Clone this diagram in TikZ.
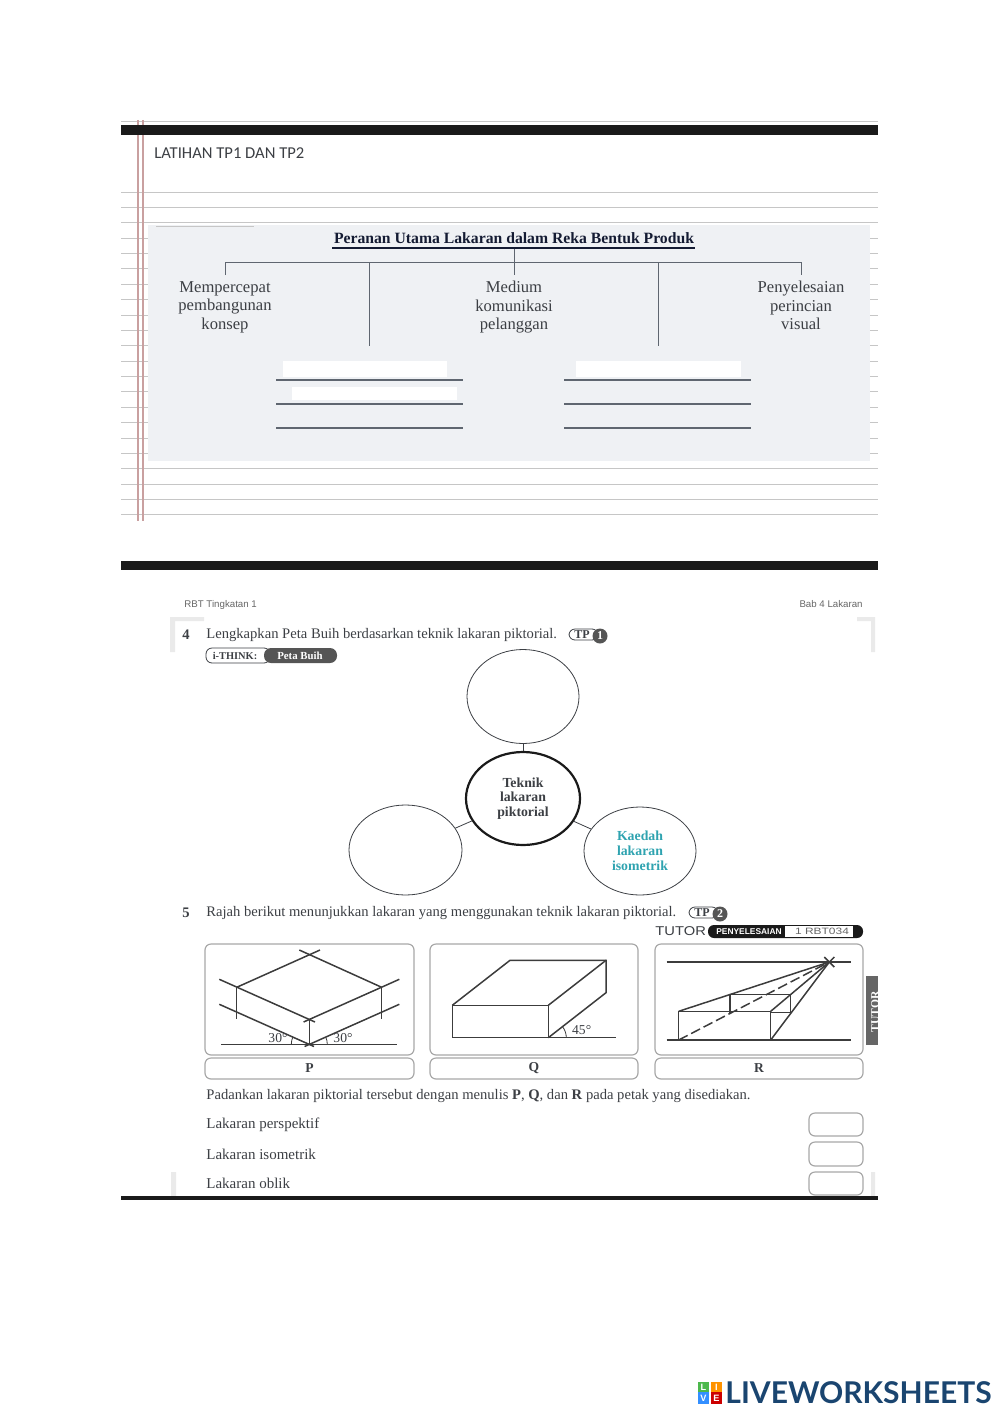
\documentclass[tikz,border=0pt]{standalone}
\usepackage{fontspec}
\usepackage{xcolor}
\usetikzlibrary{shapes.geometric}
\setmainfont{Liberation Serif}
\newfontfamily\headfont{Carlito}
\newfontfamily\pagefont{Liberation Sans}
\newfontfamily\logofont{Lato}
\definecolor{barblack}{HTML}{1A1A1A}
\definecolor{ruleline}{HTML}{C6C6C6}
\definecolor{marginred}{HTML}{C9A0A0}
\definecolor{panelgrey}{HTML}{EFF1F4}
\definecolor{inkgrey}{HTML}{3C3F44}
\definecolor{slateline}{HTML}{5F6670}
\definecolor{titlenavy}{HTML}{141B33}
\definecolor{bubbleteal}{HTML}{2FA3B0}
\definecolor{boxgrey}{HTML}{A8A8A8}
\definecolor{cornergrey}{HTML}{EAEAEA}
\definecolor{pillgrey}{HTML}{555555}
\definecolor{logonavy}{HTML}{1A4570}
\tikzset{
  every node/.append style={font=\rmfamily},
  ruled/.style={color=ruleline, line width=0.5pt},
  treeline/.style={color=slateline, line width=0.5pt},
  blankline/.style={color=slateline, line width=0.8pt},
  leaflabel/.style={font=\fontsize{8.3}{9.25}\selectfont, align=center, text=inkgrey, inner sep=0pt, anchor=north},
  qtext/.style={font=\fontsize{7.3}{8}\selectfont, anchor=west, text=inkgrey, inner sep=0pt},
  rowtext/.style={font=\fontsize{7.5}{8}\selectfont, anchor=west, text=inkgrey, inner sep=0pt},
  bubble/.style={draw=inkgrey, ellipse, line width=0.4pt, inner sep=0pt},
  hubtext/.style={font=\fontsize{6.9}{7.2}\selectfont\bfseries, align=center, text=inkgrey},
  figbox/.style={draw=boxgrey, line width=0.6pt, rounded corners=3pt},
  figline/.style={color=barblack!85, line width=0.75pt},
  boxlabel/.style={font=\fontsize{6.8}{8}\selectfont\bfseries, text=inkgrey, inner sep=0pt},
  anglelabel/.style={font=\fontsize{6.8}{8}\selectfont, text=inkgrey, inner sep=0pt},
  pagelabel/.style={font=\pagefont\fontsize{4.85}{5}\selectfont, text=black!60, inner sep=0pt},
  logotile/.style={font=\pagefont\fontsize{4.6}{5}\selectfont\bfseries, text=white, inner sep=0pt}
}

\begin{document}
\begin{tikzpicture}[x=0.5pt, y=-0.5pt]
    \useasboundingbox (0,0) rectangle (1000,1413);

    % Ruled paper
    \draw[ruled] (121,122) -- (878,122);
    \foreach \rowno in {0,...,21} {
        \pgfmathsetmacro{\rowy}{192+15.38*\rowno}
        \draw[ruled] (121,\rowy) -- (878,\rowy);
    }
    \fill[panelgrey] (148,225) rectangle (870,461);
    \draw[ruled] (156,226) -- (254,226);
    \draw[marginred, line width=0.7pt] (138,120) -- (138,521);
    \draw[marginred, line width=0.7pt] (143,120) -- (143,521);
    \fill[barblack] (121,125) rectangle (878,135);
    \node[anchor=west, inner sep=0pt, text=inkgrey] (heading) at (154,153) {\headfont\fontsize{8.3}{10}\selectfont LATIHAN TP1 DAN TP2};

    % Tree of roles
    \node[font=\fontsize{7.85}{9}\selectfont\bfseries, text=titlenavy, inner sep=0pt] (roletitle) at (514,238) {Peranan Utama Lakaran dalam Reka Bentuk Produk};
    \draw[titlenavy, line width=1.3pt] (332,248) -- (695,248);
    \node[leaflabel] (speedup) at (225,281) {Mempercepat\\pembangunan\\konsep};
    \node[leaflabel] (medium) at (514,281) {Medium\\komunikasi\\pelanggan};
    \node[leaflabel] (finish) at (801,281) {Penyelesaian\\perincian\\visual};
    \coordinate (blankleft) at (369,346);
    \coordinate (blankright) at (658,346);
    \coordinate (titlefoot) at (514,249);
    \draw[treeline] (225,275) -- (225,262) -- (801,262) -- (801,275);
    \draw[treeline] (titlefoot) -- (514,275);
    \draw[treeline] (369,262) -- (blankleft);
    \draw[treeline] (658,262) -- (blankright);

    % Blank answer lines
    \fill[white] (283,361) rectangle (447,377);
    \fill[white] (292,387) rectangle (457,400);
    \fill[white] (576,361) rectangle (741,377);
    \foreach \liney in {380,404,428} {
        \draw[blankline] (276,\liney) -- (463,\liney);
        \draw[blankline] (564,\liney) -- (751,\liney);
    }

    % Scanned page
    \fill[barblack] (121,561) rectangle (878,570);
    \fill[cornergrey] (170,617) rectangle (204,621) (170,617) rectangle (175,652);
    \fill[cornergrey] (857,617) rectangle (875,621) (871,617) rectangle (875,652);
    \fill[cornergrey] (171,1172) rectangle (176,1196) (871,1172) rectangle (875,1196);
    \fill[barblack] (121,1196) rectangle (878,1200);
    \node[pagelabel, anchor=west] (pageleft) at (184,604.5) {RBT Tingkatan 1};
    \node[pagelabel, anchor=east] (pageright) at (863,604.5) {Bab 4 Lakaran};

    % Question 4
    \node[qtext, font=\fontsize{7.3}{8}\selectfont\bfseries] (qfour) at (182,634.5) {4};
    \node[qtext] (qfourtext) at (206,635) {Lengkapkan Peta Buih berdasarkan teknik lakaran piktorial.};
    \draw[inkgrey, line width=0.4pt, rounded corners=3pt] (569,629) rectangle (598,640);
    \node[font=\fontsize{6}{7}\selectfont\bfseries, text=inkgrey, inner sep=0pt] (tpone) at (582,634.5) {TP};
    \node[circle, fill=pillgrey, minimum size=7.5pt, inner sep=0pt, text=white, font=\fontsize{6}{7}\selectfont\bfseries] (tponedot) at (600,636) {1};
    \draw[inkgrey, line width=0.4pt, rounded corners=3pt] (206,648) rectangle (270,663);
    \fill[pillgrey, rounded corners=3.5pt] (264,648) rectangle (337,663);
    \node[font=\fontsize{5.2}{6}\selectfont\bfseries, text=inkgrey, inner sep=0pt] (ithink) at (235,655.5) {i-THINK:};
    \node[font=\fontsize{5.4}{6}\selectfont\bfseries, text=white, inner sep=0pt] (petabuih) at (300,655.5) {Peta Buih};

    % Bubble map
    \node[bubble, minimum width=56pt, minimum height=47pt] (bubbletop) at (523,696.5) {};
    \node[bubble, draw=barblack, line width=1.1pt, minimum width=57pt, minimum height=46.5pt, hubtext] (hub) at (523,798.5) {Teknik\\lakaran\\piktorial};
    \node[bubble, minimum width=56.5pt, minimum height=45pt] (bubbleleft) at (405.5,850) {};
    \node[bubble, minimum width=56pt, minimum height=44pt, hubtext, text=bubbleteal, font=\fontsize{6.9}{7.5}\selectfont\bfseries] (bubbleright) at (640,851) {Kaedah\\lakaran\\isometrik};
    \draw[inkgrey, line width=0.4pt] (hub) -- (bubbletop);
    \draw[inkgrey, line width=0.4pt] (hub) -- (bubbleleft);
    \draw[inkgrey, line width=0.4pt] (hub) -- (bubbleright);

    % Question 5
    \node[qtext, font=\fontsize{7.3}{8}\selectfont\bfseries] (qfive) at (182,912.5) {5};
    \node[qtext] (qfivetext) at (206,913) {Rajah berikut menunjukkan lakaran yang menggunakan teknik lakaran piktorial.};
    \draw[inkgrey, line width=0.4pt, rounded corners=3pt] (689,907) rectangle (718,918);
    \node[font=\fontsize{6}{7}\selectfont\bfseries, text=inkgrey, inner sep=0pt] (tptwo) at (702,912.5) {TP};
    \node[circle, fill=pillgrey, minimum size=7.5pt, inner sep=0pt, text=white, font=\fontsize{6}{7}\selectfont\bfseries] (tptwodot) at (720,914) {2};

    % Tutor strip
    \node[anchor=west, inner sep=0pt, text=inkgrey, font=\pagefont\fontsize{6.4}{7}\selectfont, xscale=1.15] (tutorword) at (655,931.5) {TUTOR};
    \fill[barblack, rounded corners=3pt] (708,925) rectangle (863,938);
    \fill[white] (785,926) rectangle (853,937);
    \node[pagelabel, text=white, font=\pagefont\fontsize{4.2}{5}\selectfont\bfseries] (tutorstep) at (749,931.5) {PENYELESAIAN};
    \node[pagelabel, font=\pagefont\fontsize{4.6}{5}\selectfont, xscale=1.3] (tutorcode) at (822,931.5) {1 RBT034};

    % Figure frames
    \draw[figbox] (205,944) rectangle (414,1055);
    \draw[figbox] (205,1058) rectangle (414,1079);
    \draw[figbox] (430,944) rectangle (638,1055);
    \draw[figbox] (430,1058) rectangle (638,1079);
    \draw[figbox] (655,944) rectangle (863,1055);
    \draw[figbox] (655,1058) rectangle (863,1079);
    \node[boxlabel] (labelp) at (309.5,1068.5) {P};
    \node[boxlabel] (labelq) at (534,1068.5) {Q};
    \node[boxlabel] (labelr) at (759,1068.5) {R};

    % Figure P
    \draw[figline] (221,1044.3) -- (397,1044.3);
    \draw[figline] (219.3,1004.3) -- (314,1046.5);
    \draw[figline] (399.3,1004.3) -- (304.6,1046.5);
    \draw[figline] (309.3,1044.3) -- (309.3,1019);
    \draw[figline] (219.3,979.3) -- (315,1022);
    \draw[figline] (399.3,979.3) -- (303.6,1022);
    \draw[figline] (299.3,950) -- (381.7,987.3);
    \draw[figline] (320,950) -- (236.7,987.3);
    \draw[figline] (236.7,987.3) -- (236.7,1019.3);
    \draw[figline] (381.7,987.3) -- (381.7,1019.3);
    \draw[figline, line width=0.4pt] (291.3,1044.3) arc[start angle=180, end angle=204, radius=18];
    \draw[figline, line width=0.4pt] (327.3,1044.3) arc[start angle=0, end angle=-24, radius=18];
    \node[anglelabel] (leftangle) at (278,1038.5) {30°};
    \node[anglelabel] (rightangle) at (343,1038.5) {30°};

    % Figure Q
    \draw[figline] (452.3,1005.3) rectangle (548.3,1037.7);
    \draw[figline] (452.3,1005.3) -- (510,960.3) -- (606,960.3) -- (606,992.7) -- (548.3,1037.7);
    \draw[figline] (548.3,1005.3) -- (606,960.3);
    \draw[figline] (548.3,1037.7) -- (616,1037.7);
    \draw[figline, line width=0.4pt] (566.3,1037.7) arc[start angle=0, end angle=-38, radius=18];
    \node[anglelabel] (slantangle) at (581.7,1030.5) {45°};

    % Figure R
    \draw[figline] (666.7,962) -- (851,962);
    \draw[figline] (666.7,1040) -- (851,1040);
    \draw[figline] (678.7,1011.3) rectangle (770.7,1040);
    \coordinate (vanish) at (829.3,962);
    \draw[figline] (824.3,957) -- (834.3,967);
    \draw[figline] (824.3,967) -- (834.3,957);
    \draw[figline] (678.7,1011.3) -- (vanish);
    \draw[figline, dashed, dash pattern=on 5pt off 2pt] (678.7,1040) -- (vanish);
    \draw[figline] (770.7,1011.3) -- (vanish);
    \draw[figline] (770.7,1040) -- (vanish);
    \draw[figline] (730,1012.7) -- (730,994.3) -- (790.7,994.3) -- (790.7,1012.7) -- (770.7,1012.7);

    % Side tab
    \fill[black!60] (866,976) rectangle (878,1045);
    \begin{scope}
        \clip (866,976) rectangle (878,1045);
        \node[rotate=90, text=white, font=\fontsize{5.8}{7}\selectfont\bfseries, inner sep=0pt] (sidetab) at (875,1012) {TUTOR};
    \end{scope}

    % Matching rows
    \node[qtext] (matchtext) at (206,1096) {Padankan lakaran piktorial tersebut dengan menulis \textbf{P}, \textbf{Q}, dan \textbf{R} pada petak yang disediakan.};
    \node[rowtext] (rowone) at (206,1125) {Lakaran perspektif};
    \node[rowtext] (rowtwo) at (206,1154) {Lakaran isometrik};
    \node[rowtext] (rowthree) at (206,1183) {Lakaran oblik};
    \draw[figbox] (809,1113) rectangle (863,1136);
    \draw[figbox] (809,1142) rectangle (863,1166);
    \draw[figbox] (809,1172) rectangle (863,1195);

    % Logo
    \node[logotile, fill=green!60!black!70, minimum size=5.6pt] (tilel) at (703.5,1387.5) {L};
    \node[logotile, fill=orange!85!yellow, minimum size=5.6pt] (tilei) at (716.5,1387.5) {I};
    \node[logotile, fill=blue!55!cyan!80, minimum size=5.6pt] (tilev) at (703.5,1398) {V};
    \node[logotile, fill=red!80!black, minimum size=5.6pt] (tilee) at (716.5,1398) {E};
    \node[anchor=west, inner sep=0pt, text=logonavy, font=\logofont\bfseries\fontsize{15}{16}\selectfont] (logoword) at (725,1392.5) {LIVEWORKSHEETS};
\end{tikzpicture}
\end{document}
